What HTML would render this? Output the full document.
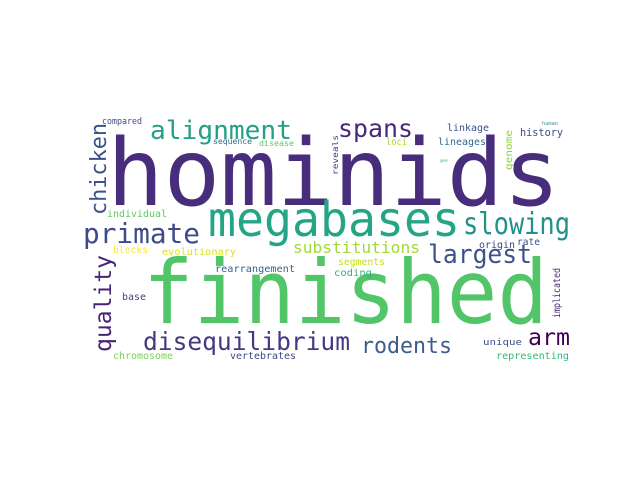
<!DOCTYPE html>
<html><head><meta charset="utf-8"><style>
html,body{margin:0;padding:0;background:#fff;}
svg{display:block;}
text{font-family:"DejaVu Sans Mono","Liberation Mono",monospace;}
</style></head><body>
<svg id="wc" width="640" height="480"></svg>
<script>
const words=["hominids","finished","megabases","slowing","alignment","spans","primate","chicken","quality","disequilibrium","rodents","arm","largest","substitutions","segments","coding","rearrangement","evolutionary","blocks","individual","base","chromosome","vertebrates","compared","sequence","disease","linkage","history","loci","lineages","genome","reveals","human","genes","origin","rate","implicated","unique","representing"];
const sizes=[93,88,48,30,26,25,28,22,23,25,22,23,26,16,10,10,10,10,9.5,10,10,10,10,8.5,8,8,10,10.5,10,10,10,8,5,4,9.5,9.5,9.5,9,10];
const colors=["#472d7b","#52c569","#25a585","#21918c","#23a087","#482878","#3e4a89","#3b528b","#482475","#443983","#3e5c8b","#440154","#3b528b","#a0da39","#c8e020","#2fb47c","#33638d","#dde318","#fde725","#5ec962","#414487","#7ad151","#404688","#3e4989","#31688e","#5ec962","#3b528b","#3e4a89","#a5db36","#31688e","#90d743","#443a83","#3b8b8c","#35b779","#414487","#3b528b","#482878","#3b528b","#35b779"];
const xs=[107,143,208,463,150,338,83,106,111,143,361,528,428,293,338,334,215,162,113,107,122,113,230,102,213,259,447,520,386,438,512,338,542,440,479,517,560,483,496];
const ys=[205,323,236,234,139,137,243,215,352,350,353,345,263,253,265,276,272,255,253,217,300,359,359,124,144,146,131,136,145,145,170,175,125,162,248,245,318,345,359];
const lens=[453,405,252,107,142,75,117,92,97,207,91,42,104,127,47,38,80,74,35,60,24,60,66,40,39,35,42,43,21,48,40,40,16,8,36,23,50,39,73];
const vert=[0,0,0,0,0,0,0,1,1,0,0,0,0,0,0,0,0,0,0,0,0,0,0,0,0,0,0,0,0,0,1,1,0,0,0,0,1,0,0];
const svg=document.getElementById('wc');
const NS='http://www.w3.org/2000/svg';
for(let i=0;i<words.length;i++){
  const t=document.createElementNS(NS,'text');
  
  
  t.setAttribute('font-size',sizes[i]);
  t.setAttribute('fill',colors[i]);
  t.setAttribute('textLength',lens[i]);
  t.setAttribute('lengthAdjust','spacingAndGlyphs');
  if(vert[i]){t.setAttribute('transform','translate('+xs[i]+','+ys[i]+') rotate(-90)');}
  else{t.setAttribute('x',xs[i]);t.setAttribute('y',ys[i]);}
  t.textContent=words[i];
  svg.appendChild(t);
}
</script>
</body></html>
